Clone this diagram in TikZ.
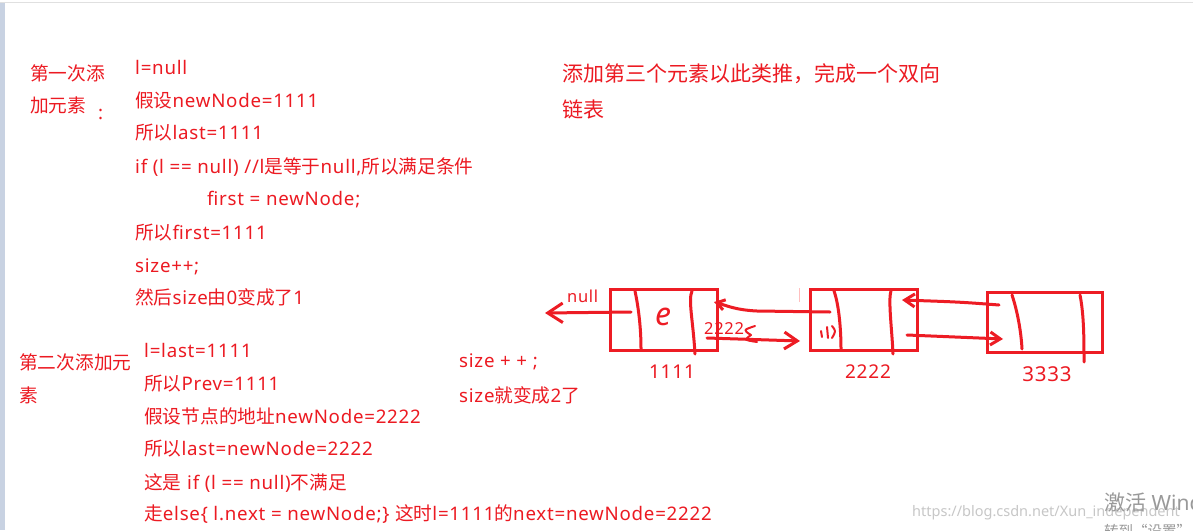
\documentclass[tikz,border=0pt]{standalone}
\usepackage{fontspec}
\setmainfont{Noto Sans}[LetterSpace=4]
\newfontfamily\plainsans{Noto Sans}
\newfontfamily\cjk{Noto Sans CJK SC}
\usetikzlibrary{arrows.meta}
\definecolor{ink}{HTML}{ED1C24}
\definecolor{txt}{HTML}{EC1A22}
\definecolor{strip}{HTML}{C8D2E2}
\newcommand\zh[1]{{\cjk #1}}
\begin{document}
\begin{tikzpicture}[x=1pt,y=-1pt,
  t/.style={anchor=base west, inner sep=0pt, text=txt, font=\fontsize{18.7}{22}\selectfont},
  big/.style={anchor=base west, inner sep=0pt, text=txt, font=\fontsize{21}{24}\selectfont},
  sm/.style={anchor=base west, inner sep=0pt, text=txt, font=\fontsize{16.5}{19}\selectfont},
  lbl/.style={anchor=base, inner sep=0pt, text=txt, font=\fontsize{19}{22}\selectfont},
  wm/.style={anchor=base west, inner sep=0pt, text=black!22, font=\plainsans\fontsize{14.5}{17}\selectfont},
  ln/.style={draw=ink, line width=3pt, line cap=round, line join=round},
  thin/.style={draw=ink, line width=2pt, line cap=round, line join=round},
  box/.style={rectangle, draw=ink, line width=3pt, inner sep=0pt},
  arr/.style={ln, -{Straight Barb[length=#1pt,width=1.3*#1pt]}}]
\clip (0,0) rectangle (1193,530);
\fill[white] (0,0) rectangle (1193,530);
\fill[black!12] (0,1.5) rectangle (1193,3);
\fill[strip] (0,3) rectangle (5,530);

% ---- first block
\node[t] (h1a) at (30,80) {\zh{第一次添}};
\node[t] (h1b) at (30,112) {\zh{加元素}};
\node[t] (h1c) at (98,119) {:};
\node[t] (a1) at (135,74) {l=null};
\node[t] (a2) at (135,107) {\zh{假设}newNode=1111};
\node[t] (a3) at (135,139) {\zh{所以}last=1111};
\node[t] (a4) at (135,173) {if (l == null) //l\zh{是等于}null,\zh{所以满足条件}};
\node[t] (a5) at (207,205) {first = newNode;};
\node[t] (a6) at (135,239) {\zh{所以}first=1111};
\node[t] (a7) at (135,272) {size++;};
\begin{scope}
\clip (100,280) rectangle (500,306);
\node[t] (a8) at (135,304) {\zh{然后}size\zh{由}0\zh{变成了}1};
\end{scope}

% ---- second block
\node[t] (h2a) at (19,369) {\zh{第二次添加元}};
\node[t] (h2b) at (19,402) {\zh{素}};
\node[t] (b1t) at (144,357) {l=last=1111};
\node[t] (b2t) at (144,390) {\zh{所以}Prev=1111};
\node[t] (b3t) at (144,423) {\zh{假设节点的地址}newNode=2222};
\node[t] (b4t) at (144,455) {\zh{所以}last=newNode=2222};
\node[t] (b5t) at (144,489) {\zh{这是} if (l == null)\zh{不满足}};
\node[t] (b6t) at (144,520) {\zh{走}else\{ l.next = newNode;\} \zh{这时}l=1111\zh{的}next=newNode=2222};

\node[t] (s1) at (459,367) {size + + ;};
\node[t] (s2) at (459,402) {size\zh{就变成}2\zh{了}};

\node[big] (r1) at (562,81) {\zh{添加第三个元素以此类推，完成一个双向}};
\node[big] (r2) at (562,117) {\zh{链表}};

% ---- boxes
\node[box, minimum width=107pt, minimum height=61pt] (n1) at (663.5,319.5) {};
\node[box, minimum width=107pt, minimum height=61pt] (n2) at (863.5,319.5) {};
\node[box, minimum width=115pt, minimum height=60pt] (n3) at (1044.5,322) {};

\draw[ln] (635,291) .. controls (639,310) and (641,330) .. (641,349);
\draw[ln] (692,291) .. controls (688,300) and (693,320) .. (695,354);
\draw[ln] (834,291) .. controls (839,305) and (841,330) .. (841,349);
\draw[ln] (891,291) .. controls (888,300) and (892,330) .. (893,354);
\draw[ln] (1012,295) .. controls (1017,310) and (1021,330) .. (1022,349);
\draw[ln] (1080,295) .. controls (1084,315) and (1084,340) .. (1084,362);

\node[inner sep=0pt, text=ink, font=\plainsans\fontsize{32}{34}\selectfont\itshape] (e) at (663,317) {e};
\draw[thin] (821,331) -- (822,337);
\draw[thin] (827,327) -- (828,338);
\draw[thin] (832,326) .. controls (836,331) .. (832,338);

\draw[pink, line width=1pt] (799,288) -- (799,302);

% labels
\node[sm] (nul) at (567,302) {null};
\node[sm] (lab2) at (704,334) {2222};
\node[lbl] (l1) at (672,378) {1111};
\node[lbl] (l2) at (868,378) {2222};
\node[lbl, font=\fontsize{20.5}{22}\selectfont] (l3) at (1047,381) {3333};

% ---- connectors
\coordinate (p1) at (631,312);
\coordinate (p0) at (545,313);
\draw[arr=15] (p1) -- (p0);

\coordinate (q2) at (830,312);
\coordinate (q1) at (714,302);
\draw[arr=8] (q2) -- (757,311) .. controls (735,310) and (725,305) .. (q1);

\coordinate (r1s) at (707,338);
\coordinate (r2e) at (800,341);
\draw[arr=13] (r1s) -- (r2e);
\draw[thin] (755,326) .. controls (743,330) .. (751,335) .. controls (744,340) .. (757,342);

\coordinate (u3) at (999,305);
\coordinate (u2) at (902,300);
\draw[arr=10] (u3) .. controls (960,302) .. (u2);

\coordinate (v2) at (907,335);
\coordinate (v3) at (1003,339);
\draw[arr=10] (v2) -- (v3);

% ---- watermark
\node[wm] (w1) at (912,516) {https://blog.csdn.net/Xun\_independent};
\node[anchor=base west, inner sep=0pt, text=black!40, font=\plainsans\fontsize{21}{24}\selectfont] (w2) at (1104,510) {\zh{激活} Windows};
\node[anchor=base west, inner sep=0pt, text=black!40, font=\plainsans\fontsize{14.5}{17}\selectfont] (w3) at (1104,536) {\zh{转到“设置”以激活} Windows\zh{。}};
\end{tikzpicture}
\end{document}
